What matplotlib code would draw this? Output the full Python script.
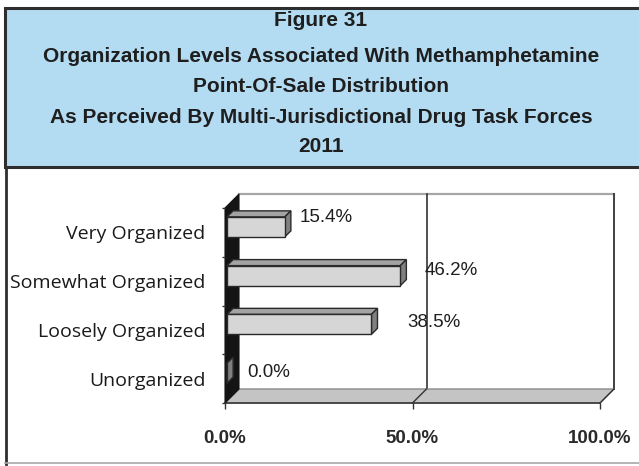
import numpy as np
import matplotlib
matplotlib.use('Agg')
import matplotlib.pyplot as plt
from matplotlib.patches import Polygon, Rectangle
from matplotlib.transforms import IdentityTransform
from matplotlib.lines import Line2D
from matplotlib.ticker import FixedLocator

# ---------------- data ----------------
categories = ["Very Organized", "Somewhat Organized", "Loosely Organized", "Unorganized"]
values = [15.4, 46.2, 38.5, 0.0]
value_labels = ["15.4%", "46.2%", "38.5%", "0.0%"]
x_ticks = [0, 50, 100]
x_tick_labels = ["0.0%", "50.0%", "100.0%"]
title_lines = ["Figure 31",
               "Organization Levels Associated With Methamphetamine",
               "Point-Of-Sale Distribution",
               "As Perceived By Multi-Jurisdictional Drug Task Forces",
               "2011"]

# ---------------- style / layout ----------------
label_offsets = [(43, 15), (53, 11), (65, 7), (44, 6)]   # pixel offsets of value labels
W, H, DPI = 639, 466, 100
DX, DY = 14, 14          # 3-D depth in pixels
Z0, Z1 = 0.15, 0.58      # bar depth range (fraction of depth)
BAR_H = 0.41
BAR_SHIFT = -0.07

fig = plt.figure(figsize=(W / DPI, H / DPI), dpi=DPI)
fig.patch.set_facecolor('white')

def fx(x): return x / W
def fy(y): return 1 - y / H

# header box
fig.add_artist(Rectangle((fx(5), fy(167)), fx(660) - fx(5), fy(8) - fy(167),
                         transform=fig.transFigure, facecolor='#b3dcf3',
                         edgecolor='#2e2e2e', linewidth=2.2))
title_y = [21, 56, 86, 117, 147]
for t, yy in zip(title_lines, title_y):
    fig.text(fx(321), fy(yy), t, ha='center', va='center', fontsize=15,
             fontweight='bold', family='Liberation Sans', color='#1e1e1e')

# frame of lower section
fig.add_artist(Line2D([fx(6), fx(6)], [fy(168), fy(464)], transform=fig.transFigure,
                      color='#2e2e2e', linewidth=2.0))
fig.add_artist(Line2D([fx(5), fx(639)], [fy(463), fy(463)], transform=fig.transFigure,
                      color='#a8a8a8', linewidth=1.2))

# ---------------- axes ----------------
ax = fig.add_axes([fx(225), fy(403), 375 / W, (403 - 208) / H])
n = len(categories)
ax.set_xlim(0, 100)
ax.set_ylim(n - 0.5, -0.5)
ax.set_autoscale_on(False)
ax.patch.set_visible(False)
for s in ax.spines.values():
    s.set_visible(False)

ax.set_xticks(x_ticks)
ax.set_xticklabels(x_tick_labels, fontsize=13.5, fontweight='bold',
                   family='Liberation Sans', color='#2a2a2a')
ax.tick_params(axis='x', direction='out', length=4.5, width=1.0, color='#333333', pad=15)

ax.set_yticks(range(n))
ax.set_yticklabels(categories, fontsize=14, family='Open Sans', color='#1a1a1a')
ax.yaxis.set_minor_locator(FixedLocator(np.arange(n + 1) - 0.5))
ax.tick_params(axis='y', which='major', length=0, pad=14)
ax.tick_params(axis='y', which='minor', direction='out', length=2.5, width=1.0, color='#333333')

ID = IdentityTransform()

def proj(x, y, z):
    p = ax.transData.transform((x, y))
    return (p[0] + z * DX, p[1] + z * DY)

def poly(pts, **kw):
    pg = Polygon(pts, closed=True, transform=ID, clip_on=False, **kw)
    ax.add_artist(pg)
    return pg

def line(p1, p2, **kw):
    ln = Line2D([p1[0], p2[0]], [p1[1], p2[1]], transform=ID, clip_on=False, **kw)
    ax.add_artist(ln)

ytop, ybot = -0.5, n - 0.5

# back wall
poly([proj(0, ytop, 1), proj(100, ytop, 1), proj(100, ybot, 1), proj(0, ybot, 1)],
     facecolor='white', edgecolor='none', zorder=1)
line(proj(0, ytop, 1), proj(100, ytop, 1), color='#a6a6a6', linewidth=1.6, zorder=1.1)
line(proj(100, ytop, 1), proj(100, ybot, 1), color='#404040', linewidth=1.4, zorder=1.1)
line(proj(50, ytop, 1), proj(50, ybot, 1), color='#333333', linewidth=1.2, zorder=1.1)

# floor
poly([proj(0, ybot, 0), proj(100, ybot, 0), proj(100, ybot, 1), proj(0, ybot, 1)],
     facecolor='#c4c4c4', edgecolor='#8a8a8a', linewidth=1.0, zorder=1.2)
line(proj(0, ybot, 0), proj(100, ybot, 0), color='#3a3a3a', linewidth=1.2, zorder=1.3)
line(proj(50, ybot, 0), proj(50, ybot, 1), color='#333333', linewidth=1.0, zorder=1.3)
line(proj(100, ybot, 0), proj(100, ybot, 1), color='#333333', linewidth=1.0, zorder=1.3)

# left side wall
poly([proj(0, ytop, 0), proj(0, ytop, 1), proj(0, ybot, 1), proj(0, ybot, 0)],
     facecolor='#141414', edgecolor='#141414', linewidth=0.8, zorder=1.4)

# bars
for i, v in enumerate(values):
    y0 = i + BAR_SHIFT - BAR_H / 2
    y1 = i + BAR_SHIFT + BAR_H / 2
    ekw = dict(edgecolor='#2a2a2a', linewidth=1.0, joinstyle='miter')
    poly([proj(0, y0, Z0), proj(v, y0, Z0), proj(v, y0, Z1), proj(0, y0, Z1)],
         facecolor='#a3a3a3', zorder=2, **ekw)
    poly([proj(v, y0, Z0), proj(v, y1, Z0), proj(v, y1, Z1), proj(v, y0, Z1)],
         facecolor='#808080', zorder=2, **ekw)
    poly([proj(0, y0, Z0), proj(v, y0, Z0), proj(v, y1, Z0), proj(0, y1, Z0)],
         facecolor='#d6d6d6', zorder=2.1, **ekw)

# value labels
for i, (v, lbl) in enumerate(zip(values, value_labels)):
    ax.annotate(lbl, xy=(v, i), xytext=label_offsets[i], textcoords='offset pixels',
                ha='center', va='center', fontsize=13.5, family='Liberation Sans',
                color='#1e1e1e', zorder=3, annotation_clip=False)

fig.savefig('out.png', dpi=DPI)
